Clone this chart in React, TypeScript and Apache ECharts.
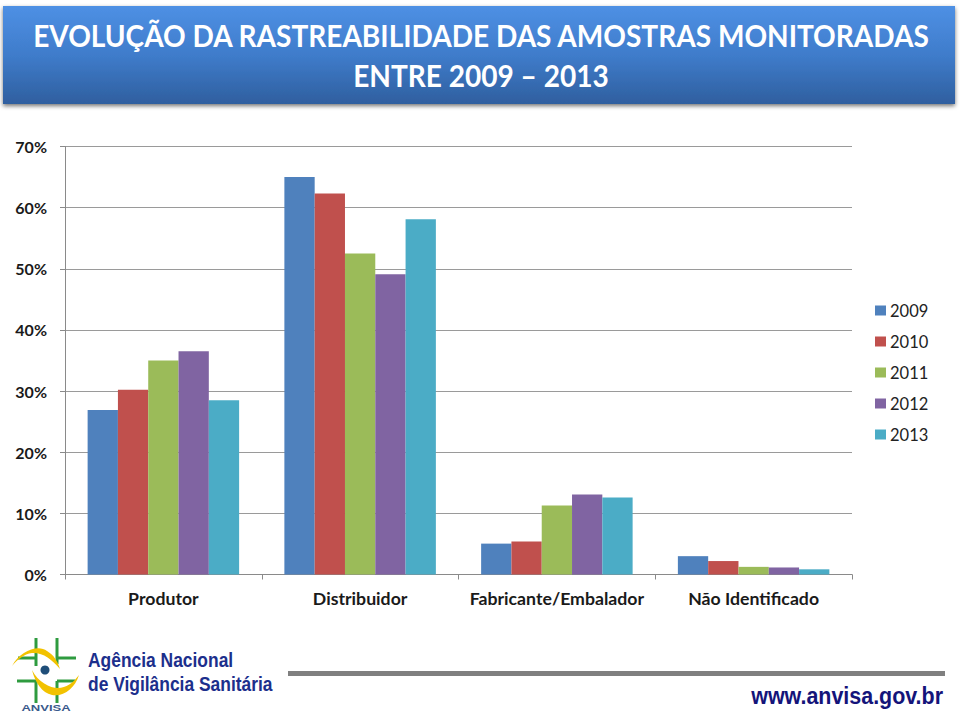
import React, { useEffect, useRef } from "react";
import * as echarts from "echarts";

const categories = ["Produtor", "Distribuidor", "Fabricante/Embalador", "Não Identificado"];
const years = ["2009", "2010", "2011", "2012", "2013"];
const colors = ["#4F81BD", "#C0504D", "#9BBB59", "#8064A2", "#4BACC6"];
const v2009 = [26.9, 65.0, 5.05, 3.0];
const v2010 = [30.2, 62.3, 5.4, 2.2];
const v2011 = [35.0, 52.5, 11.3, 1.25];
const v2012 = [36.5, 49.1, 13.1, 1.15];
const v2013 = [28.5, 58.1, 12.6, 0.85];
const values = [v2009, v2010, v2011, v2012, v2013];
const titleLines = ["EVOLUÇÃO DA RASTREABILIDADE DAS AMOSTRAS MONITORADAS", "ENTRE 2009 – 2013"];

const FONT = "Lato";
const GREEN = "#2E9B3F";
const YELLOW = "#F2C200";
const NAVY = "#1C2F8C";

echarts.graphic.registerShape(
  "swooshTop",
  echarts.graphic.extendPath("M12 666 C20 651 38 644 47 651 C54 655 58 662 60 669 C52 659 42 652 32 653 C24 654 17 660 12 666 Z", {})
);
echarts.graphic.registerShape(
  "swooshBottom",
  echarts.graphic.extendPath("M32 670 C38 682 50 688 58 688 C66 688 73 683 79 675 C75 688 64 697 52 695 C42 693 35 682 32 670 Z", {})
);

const seg = (x1: number, y1: number, x2: number, y2: number) => ({
  type: "line",
  shape: { x1, y1, x2, y2 },
  style: { stroke: GREEN, lineWidth: 3 },
});

export default function App() {
  const ref = useRef<HTMLDivElement>(null);
  useEffect(() => {
    const chart = echarts.init(ref.current!, null, { renderer: "svg" });
    chart.setOption({
      animation: false,
      backgroundColor: "#fff",
      grid: { left: 65, right: 108, top: 146.5, height: 428, containLabel: false },
      legend: {
        orient: "vertical",
        left: 870,
        top: 297,
        itemWidth: 11,
        itemHeight: 10,
        itemGap: 14,
        icon: "rect",
        textStyle: { fontFamily: FONT, fontSize: 16.5, lineHeight: 17, color: "#222", padding: [0, 0, 0, -1] },
        data: years,
      },
      xAxis: {
        type: "category",
        data: categories,
        axisLine: { lineStyle: { color: "#8a8a8a", width: 1 } },
        axisTick: { show: true, length: 5, alignWithLabel: false, lineStyle: { color: "#8a8a8a" } },
        axisLabel: { fontFamily: FONT, fontSize: 17.7, fontWeight: "bold", color: "#1a1a1a", margin: 15, interval: 0 },
      },
      yAxis: {
        type: "value",
        min: 0,
        max: 70,
        interval: 10,
        axisLine: { show: true, lineStyle: { color: "#8a8a8a", width: 1 } },
        axisTick: { show: true, length: 5, lineStyle: { color: "#8a8a8a" } },
        splitLine: { show: true, lineStyle: { color: "#9a9a9a", width: 1 } },
        axisLabel: { fontFamily: FONT, fontSize: 16, fontWeight: "bold", color: "#1a1a1a", margin: 18, padding: [0, 0, 2, 0], formatter: "{value}%" },
      },
      series: years.map((name, i) => ({
        name,
        type: "bar",
        data: values[i],
        barGap: "0%",
        barCategoryGap: "23%",
        itemStyle: { color: colors[i] },
      })),
      graphic: [
        {
          type: "rect",
          shape: { x: 3, y: 6, width: 952, height: 98 },
          style: {
            fill: new echarts.graphic.LinearGradient(0, 0, 0, 1, [
              { offset: 0, color: "#4E90E4" },
              { offset: 0.5, color: "#3F7CCB" },
              { offset: 1, color: "#2F5F9F" },
            ]),
            shadowBlur: 4,
            shadowColor: "rgba(0,0,0,0.55)",
            shadowOffsetY: 2,
          },
          silent: true,
        },
        ...titleLines.map((text, i) => ({
          type: "text",
          x: 481,
          y: 35 + i * 40,
          scaleX: 0.905,
          style: {
            text,
            fill: "#fff",
            fontFamily: FONT,
            fontWeight: "bold",
            fontSize: 31,
            align: "center",
            verticalAlign: "middle",
          },
        })),
        { type: "rect", shape: { x: 288, y: 671, width: 657, height: 5 }, style: { fill: "#808080" } },
        seg(36, 638, 36, 666),
        seg(57, 638, 57, 664),
        seg(18, 658, 36, 658),
        seg(57, 658, 76, 658),
        seg(17, 681, 36, 681),
        seg(57, 681, 75, 681),
        seg(36, 681, 36, 703),
        seg(57, 681, 57, 703),
        { type: "swooshTop", style: { fill: YELLOW } },
        { type: "swooshBottom", style: { fill: YELLOW } },
        { type: "circle", shape: { cx: 45, cy: 670, r: 4.5 }, style: { fill: "#1F4E79" } },
        {
          type: "text", x: 46, y: 708, scaleX: 1.45,
          style: { text: "ANVISA", fill: "#3A5A8C", fontFamily: "Liberation Sans", fontWeight: "bold", fontSize: 9, align: "center", verticalAlign: "middle" },
        },
        {
          type: "text", x: 88, y: 660, scaleX: 0.83,
          style: { text: "Agência Nacional", fill: NAVY, fontFamily: "Liberation Sans", fontWeight: "bold", fontSize: 21, verticalAlign: "middle" },
        },
        {
          type: "text", x: 88, y: 684, scaleX: 0.83,
          style: { text: "de Vigilância Sanitária", fill: NAVY, fontFamily: "Liberation Sans", fontWeight: "bold", fontSize: 21, verticalAlign: "middle" },
        },
        {
          type: "text", x: 943, y: 696, scaleX: 0.893,
          style: { text: "www.anvisa.gov.br", fill: "#14147A", fontFamily: "Liberation Sans", fontWeight: "bold", fontSize: 24, align: "right", verticalAlign: "middle" },
        },
      ],
    });
    return () => chart.dispose();
  }, []);
  return <div ref={ref} style={{ position: "fixed", left: 0, top: 0, width: 960, height: 715 }} />;
}
